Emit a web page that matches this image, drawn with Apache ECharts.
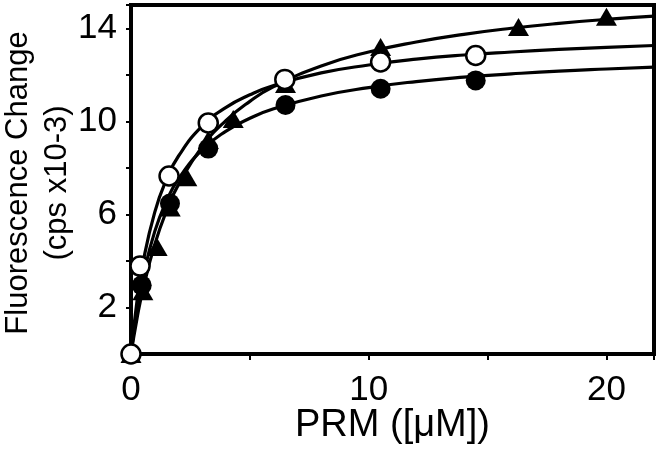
<!DOCTYPE html>
<html><head><meta charset="utf-8">
<script src="https://cdn.jsdelivr.net/npm/echarts@6/dist/echarts.min.js"></script>
<style>html,body{margin:0;padding:0;background:#fff}#c{width:658px;height:452px}</style>
</head><body><div id="c"></div>
<script>
// Measured points
const filledX = [0, 0.45, 1.64, 3.25, 6.5, 10.5, 14.5];
const filledY = [0, 2.95, 6.47, 8.83, 10.7, 11.4, 11.76];
const openX = [0, 0.38, 1.6, 3.25, 6.47, 10.5, 14.5];
const openY = [0, 3.78, 7.65, 9.93, 11.8, 12.55, 12.83];
const triX = [0, 0.5, 1.1, 1.65, 2.35, 3.25, 4.3, 6.5, 10.5, 16.3, 20.0];
const triY = [0, 2.7, 4.6, 6.3, 7.6, 9.2, 10.1, 11.6, 13.2, 14.05, 14.5];
// Fitted curves
const curveX = [0, 0.25, 0.5, 1, 1.5, 2, 3, 4, 5, 6, 8, 10, 12, 14, 16, 18, 20, 22];
const filledCurve = [0, 1.88, 3.29, 5.27, 6.59, 7.53, 8.78, 9.58, 10.13, 10.54, 11.09, 11.45, 11.71, 11.90, 12.04, 12.16, 12.25, 12.33];
const openCurve = [0, 2.26, 3.90, 6.10, 7.52, 8.51, 9.80, 10.60, 11.14, 11.54, 12.08, 12.42, 12.67, 12.85, 12.98, 13.09, 13.18, 13.26];
const triCurve = [0, 1.51, 2.76, 4.71, 6.17, 7.29, 8.92, 10.04, 10.86, 11.49, 12.38, 12.98, 13.41, 13.74, 14.00, 14.21, 14.38, 14.52];
const yTitle = 'Fluorescence Change\n(cps x10-3)';
const xTitle = 'PRM ([μM])';

const zip = (xs, ys) => xs.map((x, i) => [x, ys[i]]);
const FONT = '"Liberation Sans", Arial, sans-serif';
const chart = echarts.init(document.getElementById('c'));
const lineS = (d) => ({type: 'line', data: zip(curveX, d), smooth: true, showSymbol: false, symbol: 'none',
  lineStyle: {color: '#000', width: 3.2}, z: 2, animation: false});
chart.setOption({
  animation: false,
  graphic: [{type: 'text', x: 38, y: 183, rotation: Math.PI / 2,
    style: {text: yTitle, fill: '#000', font: '31px ' + FONT, lineHeight: 39, align: 'center', verticalAlign: 'middle'}}],
  grid: {left: 131, right: 4, top: 5, bottom: 98, containLabel: false, outerBoundsMode: 'none',
    show: true, borderColor: '#000', borderWidth: 4, backgroundColor: 'transparent'},
  xAxis: {type: 'value', min: 0, max: 22, interval: 5,
    axisLine: {show: true, onZero: false, lineStyle: {color: '#000', width: 4}},
    axisTick: {show: true, length: 6, lineStyle: {color: '#000', width: 2}},
    splitLine: {show: false},
    axisLabel: {color: '#000', fontSize: 35, fontFamily: FONT, margin: 19, formatter: v => (v % 10 === 0 ? String(v) : '')},
    name: xTitle, nameLocation: 'middle', nameGap: 53, nameMoveOverlap: false,
    nameTextStyle: {color: '#000', fontSize: 38, fontFamily: FONT}},
  yAxis: {type: 'value', min: 0, max: 15, interval: 2,
    axisLine: {show: true, onZero: false, lineStyle: {color: '#000', width: 4}},
    axisTick: {show: true, length: 5, lineStyle: {color: '#000', width: 2}},
    splitLine: {show: false},
    axisLabel: {color: '#000', fontSize: 35, fontFamily: FONT, margin: 14, formatter: v => (v % 4 === 2 ? String(v) : '')}},
  series: [
    lineS(filledCurve), lineS(openCurve), lineS(triCurve),
    {type: 'scatter', data: zip(filledX, filledY), symbol: 'circle', symbolSize: 20,
      itemStyle: {color: '#000', opacity: 1}, z: 5},
    {type: 'scatter', data: zip(openX, openY), symbol: 'circle', symbolSize: 19,
      itemStyle: {color: '#fff', borderColor: '#000', borderWidth: 2.5, opacity: 1}, z: 6},
    {type: 'scatter', data: zip(triX, triY), symbol: 'triangle', symbolSize: [21, 18],
      itemStyle: {color: '#000', opacity: 1}, z: 4}
  ]
});
</script></body></html>
